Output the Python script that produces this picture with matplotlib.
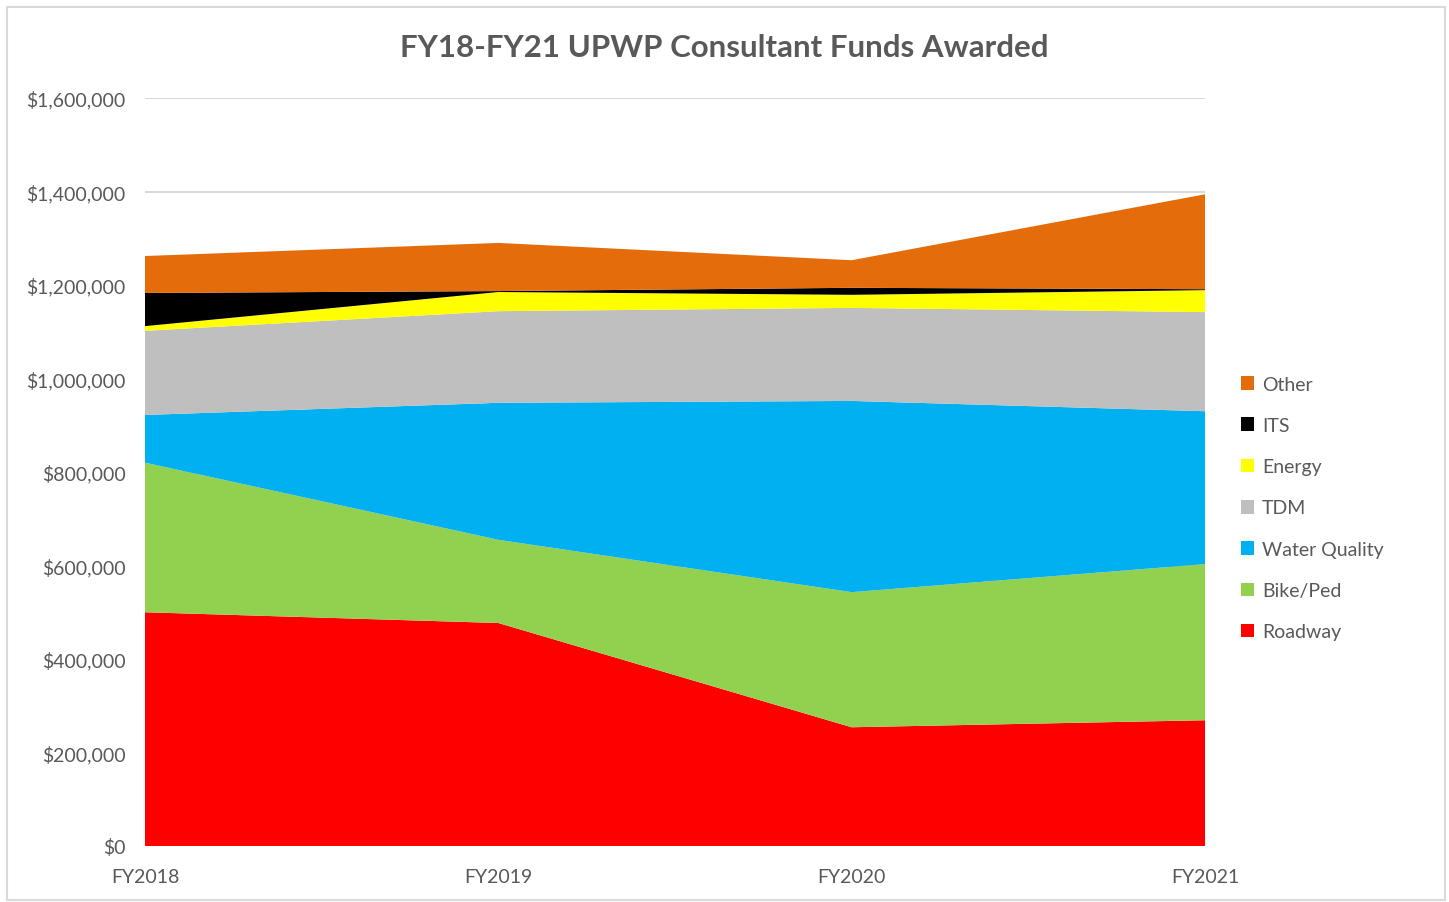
import matplotlib
matplotlib.use("Agg")
import matplotlib.pyplot as plt
import matplotlib.patches as mpatches
from matplotlib.ticker import FuncFormatter

plt.rcParams['font.family'] = ['Lato', 'DejaVu Sans']

years = ["FY2018", "FY2019", "FY2020", "FY2021"]
roadway = [500000, 477000, 254000, 269000]
bike_ped = [320000, 178000, 289000, 334000]
water_quality = [102000, 293000, 409000, 327000]
tdm = [180000, 196000, 199000, 212000]
energy = [10000, 41000, 28000, 47000]
its = [71000, 2000, 15000, 2000]
other = [79000, 103000, 59000, 203000]

series = [roadway, bike_ped, water_quality, tdm, energy, its, other]
names = ["Roadway", "Bike/Ped", "Water Quality", "TDM", "Energy", "ITS", "Other"]
colors = ["#ff0000", "#92d050", "#00b0f0", "#bfbfbf", "#ffff00", "#000000", "#e46c0a"]

text_col = "#595959"

fig = plt.figure(figsize=(14.49, 9.03), dpi=100)
ax = fig.add_axes([145/1449, 1 - 847/903, (1205-145)/1449, (847-99)/903])

x = list(range(len(years)))
ax.stackplot(x, *series, colors=colors, labels=names, linewidth=0, zorder=2)

ax.set_xlim(0, 3)
ax.set_ylim(0, 1600000)
ax.set_yticks(range(0, 1600001, 200000))
ax.yaxis.set_major_formatter(FuncFormatter(lambda v, p: "${:,.0f}".format(v)))
ax.set_xticks(x)
ax.set_xticklabels(years)
ax.grid(axis='y', color="#d9d9d9", linewidth=1.5, zorder=0)
ax.set_axisbelow(True)
for s in ax.spines.values():
    s.set_visible(False)
ax.tick_params(length=0, labelsize=14, labelcolor=text_col)
ax.tick_params(axis='y', pad=14)
ax.tick_params(axis='x', pad=16)

fig.text(0.5, 1 - 48/903, "FY18-FY21 UPWP Consultant Funds Awarded", ha='center', va='center',
         fontsize=22.5, fontweight='bold', color=text_col)

handles, labels = ax.get_legend_handles_labels()
leg = fig.legend(handles[::-1], labels[::-1], loc='center left', bbox_to_anchor=(1223/1449, 1 - 509/903),
                 frameon=False, fontsize=14, handlelength=0.7, handleheight=0.7, handletextpad=0.4,
                 labelspacing=1.25, labelcolor=text_col)

fig.patches.append(mpatches.Rectangle((7/1449, 2/903), (1445-7)/1449, (895-2)/903, transform=fig.transFigure,
                                      fill=False, edgecolor="#d9d9d9", linewidth=1.5))

fig.savefig("out.png", dpi=100)
